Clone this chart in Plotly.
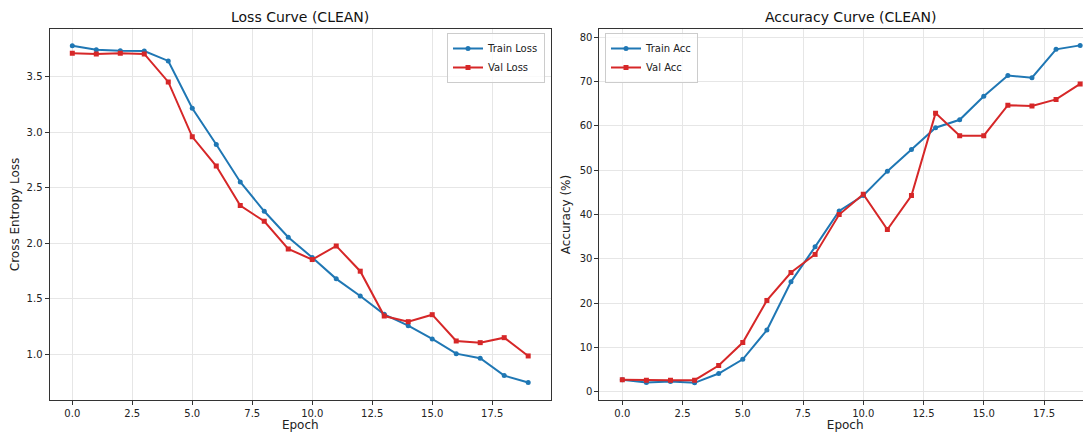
import plotly.graph_objects as go

epochs = list(range(20))
train_loss = [3.782, 3.746, 3.737, 3.734, 3.644, 3.218, 2.891, 2.553, 2.289, 2.055,
              1.872, 1.680, 1.525, 1.360, 1.258, 1.138, 1.006, 0.964, 0.808, 0.745]
val_loss = [3.713, 3.707, 3.713, 3.707, 3.455, 2.960, 2.697, 2.340, 2.199, 1.950,
            1.854, 1.977, 1.749, 1.345, 1.294, 1.357, 1.120, 1.105, 1.150, 0.985]
train_acc = [2.7, 2.1, 2.3, 2.0, 4.1, 7.3, 13.9, 24.8, 32.7, 40.8,
             44.3, 49.8, 54.7, 59.6, 61.4, 66.7, 71.4, 70.9, 77.3, 78.2]
val_acc = [2.7, 2.6, 2.6, 2.6, 5.9, 11.1, 20.6, 26.9, 31.0, 40.0,
           44.6, 36.6, 44.3, 62.9, 57.8, 57.8, 64.7, 64.5, 66.0, 69.5]

x_tick_vals = [0, 2.5, 5, 7.5, 10, 12.5, 15, 17.5]
x_tick_text = ["0.0", "2.5", "5.0", "7.5", "10.0", "12.5", "15.0", "17.5"]
loss_tick_vals = [1.0, 1.5, 2.0, 2.5, 3.0, 3.5]
loss_tick_text = ["1.0", "1.5", "2.0", "2.5", "3.0", "3.5"]
acc_tick_vals = [0, 10, 20, 30, 40, 50, 60, 70, 80]
acc_tick_text = ["0", "10", "20", "30", "40", "50", "60", "70", "80"]

BLUE = "#1f77b4"
RED = "#d62728"
FONT = "DejaVu Sans"
OFF = 8  # page body margin offset
W, H = 1091 - OFF, 432 - OFF


def px(p):
    return (p - OFF) / W


def py(p):
    return 1 - (p - OFF) / H


fig = go.Figure()
fig.add_trace(go.Scatter(x=epochs, y=train_loss, name="Train Loss", mode="lines+markers",
                         line=dict(color=BLUE, width=2), marker=dict(symbol="circle", size=5, color=BLUE),
                         xaxis="x", yaxis="y", legend="legend"))
fig.add_trace(go.Scatter(x=epochs, y=val_loss, name="Val Loss", mode="lines+markers",
                         line=dict(color=RED, width=2), marker=dict(symbol="square", size=5, color=RED),
                         xaxis="x", yaxis="y", legend="legend"))
fig.add_trace(go.Scatter(x=epochs, y=train_acc, name="Train Acc", mode="lines+markers",
                         line=dict(color=BLUE, width=2), marker=dict(symbol="circle", size=5, color=BLUE),
                         xaxis="x2", yaxis="y2", legend="legend2"))
fig.add_trace(go.Scatter(x=epochs, y=val_acc, name="Val Acc", mode="lines+markers",
                         line=dict(color=RED, width=2), marker=dict(symbol="square", size=5, color=RED),
                         xaxis="x2", yaxis="y2", legend="legend2"))

ydom = [py(400), py(29)]
x1dom = [px(49.5), px(551)]
x2dom = [px(599.4), 1.0]

common = dict(showgrid=True, gridcolor="#e6e6e6", gridwidth=0.8, zeroline=False,
              showline=True, linecolor="#333333", linewidth=1,
              ticks="outside", ticklen=4, tickcolor="#333333", tickwidth=1,
              tickfont=dict(family=FONT, size=10, color="#222222"), automargin=False)

fig.update_layout(
    width=W, height=H, autosize=False,
    margin=dict(l=0, r=0, t=0, b=0),
    paper_bgcolor="white", plot_bgcolor="white",
    font=dict(family=FONT, color="#222222"),
    xaxis=dict(domain=x1dom, anchor="y", range=[-0.95, 19.95], tickvals=x_tick_vals, ticktext=x_tick_text,
               mirror=True, title=dict(text="Epoch", font=dict(family=FONT, size=12), standoff=6), **common),
    yaxis=dict(domain=ydom, anchor="x", range=[0.588, 3.932], tickvals=loss_tick_vals, ticktext=loss_tick_text,
               mirror=True, title=dict(text="Cross Entropy Loss", font=dict(family=FONT, size=12), standoff=6), **common),
    xaxis2=dict(domain=x2dom, anchor="y2", range=[-0.95, 19.45], tickvals=x_tick_vals, ticktext=x_tick_text,
                mirror=True, title=dict(text="Epoch", font=dict(family=FONT, size=12), standoff=6), **common),
    yaxis2=dict(domain=ydom, anchor="x2", range=[-1.88, 81.9], tickvals=acc_tick_vals, ticktext=acc_tick_text,
                mirror=False, title=dict(text="Accuracy (%)", font=dict(family=FONT, size=12), standoff=6), **common),
    legend=dict(x=px(545), y=py(33), xanchor="right", yanchor="top",
                bgcolor="rgba(255,255,255,0.8)", bordercolor="#cccccc", borderwidth=1,
                font=dict(family=FONT, size=10, color="#222222"), tracegroupgap=0, itemwidth=30),
    legend2=dict(x=px(605), y=py(33), xanchor="left", yanchor="top",
                 bgcolor="rgba(255,255,255,0.8)", bordercolor="#cccccc", borderwidth=1,
                 font=dict(family=FONT, size=10, color="#222222"), tracegroupgap=0, itemwidth=30),
    annotations=[
        dict(text="Loss Curve (CLEAN)", x=(x1dom[0] + x1dom[1]) / 2, y=py(17), xref="paper", yref="paper",
             showarrow=False, xanchor="center", yanchor="middle", font=dict(family=FONT, size=14, color="#111111")),
        dict(text="Accuracy Curve (CLEAN)", x=px(851), y=py(17), xref="paper", yref="paper",
             showarrow=False, xanchor="center", yanchor="middle", font=dict(family=FONT, size=14, color="#111111")),
    ],
)

fig.write_html("out.html")
